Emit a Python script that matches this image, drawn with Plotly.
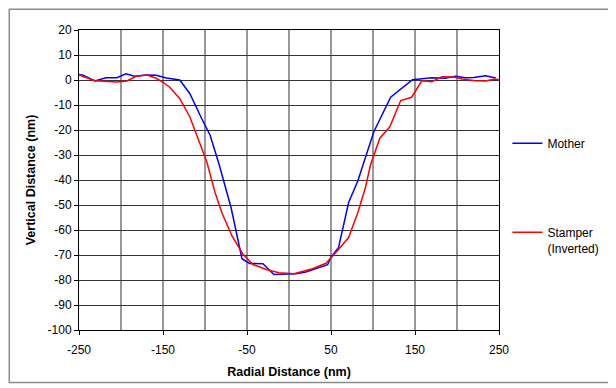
import plotly.graph_objects as go

mother_x = [-250, -245, -231, -218, -205, -194, -184, -170, -158, -146, -130, -118, -104, -94, -83, -72, -69,
            -56, -47, -31, -18, 8, 20, 46, 50, 59, 71, 82, 93, 101, 121, 147, 170, 186, 198, 210, 220, 234, 246]
mother_y = [2.2, 1.9, -0.4, 0.9, 0.9, 2.5, 1.5, 2.0, 1.9, 0.8, 0.0, -5.5, -15.4, -22, -34, -47, -51,
            -71.5, -73.4, -73.5, -77.8, -77.5, -76.8, -73.9, -70.9, -67, -49, -40.3, -29.3, -20.7, -6.9, 0.1, 0.9, 0.7, 1.5, 0.9, 1.0, 1.7, 0.8]

stamper_x = [-250, -231, -205, -193, -182, -169, -158, -150, -142, -130, -118, -106, -98, -88, -80, -68,
             -55, -43, -27, -12, 6, 28, 44, 56, 71, 82, 91, 97, 108, 120, 133, 146, 158, 170, 182, 196, 206, 222, 234, 245, 253]
stamper_y = [2.0, -0.3, -0.8, -0.4, 1.5, 2.0, 0.7, -0.9, -2.9, -7.5, -14.8, -26, -32.6, -45, -53, -62.3,
             -69.6, -73.8, -75.8, -77.1, -77.5, -75.5, -73.3, -68.9, -63, -53, -43, -34, -23.4, -18.7, -8.2, -6.9, -0.3, -0.7, 1.3, 1.2, 0.4, -0.3, -0.4, 0.4, -0.1]

x_ticks = [-250, -150, -50, 50, 150, 250]
y_ticks = list(range(-100, 21, 10))

FONT = "Liberation Sans, Arial, sans-serif"

fig = go.Figure()
fig.add_trace(go.Scatter(x=mother_x, y=mother_y, mode="lines", name="Mother",
                         line=dict(color="#0000FF", width=1.5), legendgroup="a"))
fig.add_trace(go.Scatter(x=stamper_x, y=stamper_y, mode="lines", name="Stamper<br>(Inverted)",
                         line=dict(color="#FF0000", width=1.5), legendgroup="b"))

grid_x = list(range(-200, 250, 50))
for gx in grid_x:
    fig.add_shape(type="line", xref="x", yref="paper", x0=gx, x1=gx, y0=0, y1=1,
                  line=dict(color="#333333", width=1), layer="below")

fig.update_layout(
    width=608, height=380,
    margin=dict(l=71, r=115, t=22, b=55),
    paper_bgcolor="white", plot_bgcolor="white",
    font=dict(family=FONT, size=12, color="black"),
    showlegend=True,
    legend=dict(x=1.02, xanchor="left", y=0.67, yanchor="top",
                tracegroupgap=70, traceorder="grouped", valign="top",
                font=dict(size=12), itemwidth=30, bgcolor="rgba(0,0,0,0)"),
    shapes=list(fig.layout.shapes) + [
        dict(type="rect", xref="paper", yref="paper", x0=-0.166, x1=1.268, y0=-0.175, y1=1.069,
             line=dict(color="#8c8c8c", width=1.5), layer="below"),
    ],
)

fig.update_xaxes(range=[-250, 250], tickvals=x_ticks, ticktext=[str(v) for v in x_ticks],
                 showgrid=False, zeroline=False, showline=True, linecolor="black", linewidth=1,
                 mirror=True, ticks="outside", ticklen=4, tickcolor="black", ticklabelstandoff=5,
                 title=dict(text="<b>Radial Distance (nm)</b>", standoff=10, font=dict(size=12.5)))
fig.update_yaxes(range=[-100, 20], tickvals=y_ticks, ticktext=[str(v) for v in y_ticks],
                 showgrid=True, gridcolor="#333333", gridwidth=1, zeroline=False,
                 showline=True, linecolor="black", linewidth=1, mirror=True,
                 ticks="outside", ticklen=4, tickcolor="black",
                 title=dict(text="<b>Vertical Distance (nm)</b>", standoff=9, font=dict(size=12.5)))

fig.write_html("out.html")
